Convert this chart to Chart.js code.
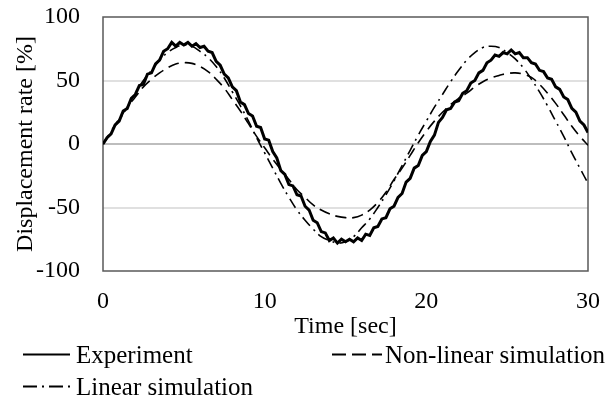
<!doctype html>
<html>
    <head>
        <meta charset="utf-8">
        <script src="https://cdn.jsdelivr.net/npm/chart.js"></script>
        <style>
            body {
                margin: 0px;
                background-color: white;
            }

            #wrap {
                position: relative;
                width: 607px;
                height: 401px;
                font-family: "Liberation Serif", "Times New Roman", serif;
            }

            #chart {
                position: absolute;
                left: 0px;
                top: 0px;
            }

            .item {
                position: absolute;
                display: flex;
                align-items: center;
                font-size: 25px;
                line-height: 1;
                color: black;
                white-space: nowrap;
            }
        </style>
    </head>
    <body>
        <div id="wrap">
            <canvas id="chart" width="607" height="401"></canvas>

            <div class="item" style="left: 23px; top: 342px;">
                <svg width="47" height="25" style="margin-right: 6px;"><line x1="0" y1="12.5" x2="47" y2="12.5" stroke="black" stroke-width="2"/></svg>
                <span id="lblExp"></span>
            </div>
            <div class="item" style="left: 332px; top: 342px;">
                <svg width="50" height="25" style="margin-right: 3px;"><line x1="0" y1="12.5" x2="50" y2="12.5" stroke="black" stroke-width="2" stroke-dasharray="14,6"/></svg>
                <span id="lblNonLin"></span>
            </div>
            <div class="item" style="left: 23px; top: 374px;">
                <svg width="47" height="25" style="margin-right: 6px;"><line x1="0" y1="12.5" x2="47" y2="12.5" stroke="black" stroke-width="2" stroke-dasharray="14,5,2,5"/></svg>
                <span id="lblLin"></span>
            </div>
        </div>

        <script>

        // series names
        const seriesNames = ['Experiment', 'Non-linear simulation', 'Linear simulation'];

        const expTime = [
            0, 0.25, 0.5, 0.75, 1, 1.25, 1.5, 1.75, 2, 2.25, 2.5, 2.75, 3, 3.25, 3.5, 3.75,
            4, 4.25, 4.5, 4.75, 5, 5.25, 5.5, 5.75, 6, 6.25, 6.5, 6.75, 7, 7.25, 7.5, 7.75,
            8, 8.25, 8.5, 8.75, 9, 9.25, 9.5, 9.75, 10, 10.25, 10.5, 10.75, 11, 11.25, 11.5, 11.75,
            12, 12.25, 12.5, 12.75, 13, 13.25, 13.5, 13.75, 14, 14.25, 14.5, 14.75, 15, 15.25, 15.5, 15.75,
            16, 16.25, 16.5, 16.75, 17, 17.25, 17.5, 17.75, 18, 18.25, 18.5, 18.75, 19, 19.25, 19.5, 19.75,
            20, 20.25, 20.5, 20.75, 21, 21.25, 21.5, 21.75, 22, 22.25, 22.5, 22.75, 23, 23.25, 23.5, 23.75,
            24, 24.25, 24.5, 24.75, 25, 25.25, 25.5, 25.75, 26, 26.25, 26.5, 26.75, 27, 27.25, 27.5, 27.75,
            28, 28.25, 28.5, 28.75, 29, 29.25, 29.5, 29.75, 30
        ];
        const expValues = [
            0, 5, 8, 15, 18, 26, 28, 36, 39, 46, 47, 55, 56, 63, 66, 73,
            75, 80, 77, 80, 78, 80, 77, 79, 76, 77, 73, 72, 65, 62, 55, 52,
            45, 42, 33, 31, 24, 22, 14, 13, 4, 3, -6, -11, -21, -24, -32, -33,
            -40, -41, -49, -52, -60, -62, -69, -70, -76, -74, -78, -75, -77, -75, -77, -74,
            -76, -71, -72, -66, -65, -59, -58, -51, -49, -42, -39, -30, -27, -19, -17, -9,
            -6, 2, 7, 17, 21, 27, 28, 33, 34, 40, 42, 48, 50, 56, 58, 64,
            66, 70, 69, 72, 71, 74, 71, 72, 68, 68, 64, 63, 58, 57, 52, 51,
            45, 43, 37, 35, 28, 25, 18, 15, 9
        ];

        // simulations, every 0.5 sec
        const simTime = [
            0, 0.5, 1, 1.5, 2, 2.5, 3, 3.5, 4, 4.5, 5, 5.5, 6, 6.5, 7, 7.5,
            8, 8.5, 9, 9.5, 10, 10.5, 11, 11.5, 12, 12.5, 13, 13.5, 14, 14.5, 15, 15.5,
            16, 16.5, 17, 17.5, 18, 18.5, 19, 19.5, 20, 20.5, 21, 21.5, 22, 22.5, 23, 23.5,
            24, 24.5, 25, 25.5, 26, 26.5, 27, 27.5, 28, 28.5, 29, 29.5, 30
        ];
        const nonLinearValues = [
            0, 10, 20, 29, 37, 45, 51, 56, 60, 63, 64, 63.5, 61, 57, 51, 44,
            35, 26, 16, 6, -3, -12, -20, -28, -36, -42, -48, -52, -55, -57, -58, -58,
            -56, -52, -46, -38, -28, -19, -9, 1, 10, 18, 25, 31, 36, 40, 45, 49,
            52, 54, 55.5, 56, 55, 52.5, 47, 40, 32, 23, 14, 6, -1
        ];
        const linearValues = [
            0, 9, 19, 29, 40, 50, 58, 66, 72, 76, 78, 77, 73, 68, 61, 52,
            41, 30, 18, 5, -7, -19, -31, -42, -52, -60, -67, -73, -76, -78, -77, -73,
            -66, -59, -50, -40, -29, -17, -5, 7, 18, 29, 39, 49, 58, 66, 72, 76,
            77, 76, 72, 67, 60, 51, 41, 30, 18, 6, -7, -19, -31
        ];

        // axis ticks
        const xTicks = [0, 10, 20, 30];
        const yTicks = [-100, -50, 0, 50, 100];

        document.getElementById('lblExp').textContent = seriesNames[0];
        document.getElementById('lblNonLin').textContent = seriesNames[1];
        document.getElementById('lblLin').textContent = seriesNames[2];

        function pairs(xs, ys) {
            return xs.map((x, i) => ({ x: x, y: ys[i] }));
        }

        // plot frame, dark gray like the original
        const frame = {
            id: 'frame',
            beforeDatasetsDraw(chart) {
                const a = chart.chartArea;
                const ctx = chart.ctx;
                ctx.save();
                ctx.strokeStyle = '#595959';
                ctx.lineWidth = 1.5;
                ctx.strokeRect(a.left, a.top, a.right - a.left, a.bottom - a.top);
                ctx.restore();
            }
        };

        Chart.defaults.font.family = '"Liberation Serif", "Times New Roman", serif';
        Chart.defaults.font.size = 24;
        Chart.defaults.color = '#000';

        new Chart(document.getElementById('chart'), {
            type: 'line',
            data: {
                datasets: [
                    {
                        label: seriesNames[0],
                        data: pairs(expTime, expValues),
                        borderColor: '#000',
                        borderWidth: 3,
                        pointRadius: 0,
                        tension: 0
                    },
                    {
                        label: seriesNames[1],
                        data: pairs(simTime, nonLinearValues),
                        borderColor: '#000',
                        borderWidth: 1.6,
                        borderDash: [11, 6],
                        pointRadius: 0,
                        tension: 0.4
                    },
                    {
                        label: seriesNames[2],
                        data: pairs(simTime, linearValues),
                        borderColor: '#000',
                        borderWidth: 1.6,
                        borderDash: [11, 5, 2, 5],
                        pointRadius: 0,
                        tension: 0.4
                    }
                ]
            },
            options: {
                responsive: false,
                animation: false,
                devicePixelRatio: 1,
                layout: {
                    padding: { left: 0, right: 19, top: 17, bottom: 60 }
                },
                plugins: {
                    legend: { display: false },
                    tooltip: { enabled: false }
                },
                scales: {
                    x: {
                        type: 'linear',
                        min: 0,
                        max: 30,
                        afterBuildTicks: s => { s.ticks = xTicks.map(v => ({ value: v })); },
                        afterFit: s => { s.height = 70; },
                        grid: {
                            drawOnChartArea: false,
                            drawTicks: true,
                            tickLength: 16,
                            color: 'rgba(0,0,0,0)'
                        },
                        border: { display: false },
                        ticks: { padding: 0 },
                        title: {
                            display: true,
                            text: 'Time [sec]',
                            padding: { top: 0, bottom: 0 }
                        }
                    },
                    y: {
                        min: -100,
                        max: 100,
                        afterBuildTicks: s => { s.ticks = yTicks.map(v => ({ value: v })); },
                        afterFit: s => { s.width = 103; },
                        grid: {
                            drawTicks: true,
                            tickLength: 23,
                            tickColor: 'rgba(0,0,0,0)',
                            lineWidth: 2,
                            color: c => {
                                if (c.tick.value === 0) return '#bdbdbd';
                                if (Math.abs(c.tick.value) === 100) return 'rgba(0,0,0,0)';
                                return '#e0e0e0';
                            }
                        },
                        border: { display: false },
                        ticks: { padding: 0 },
                        title: {
                            display: true,
                            text: 'Displacement rate [%]',
                            padding: { top: 11, bottom: 0 }
                        }
                    }
                }
            },
            plugins: [frame]
        });

        </script>
    </body>
</html>
